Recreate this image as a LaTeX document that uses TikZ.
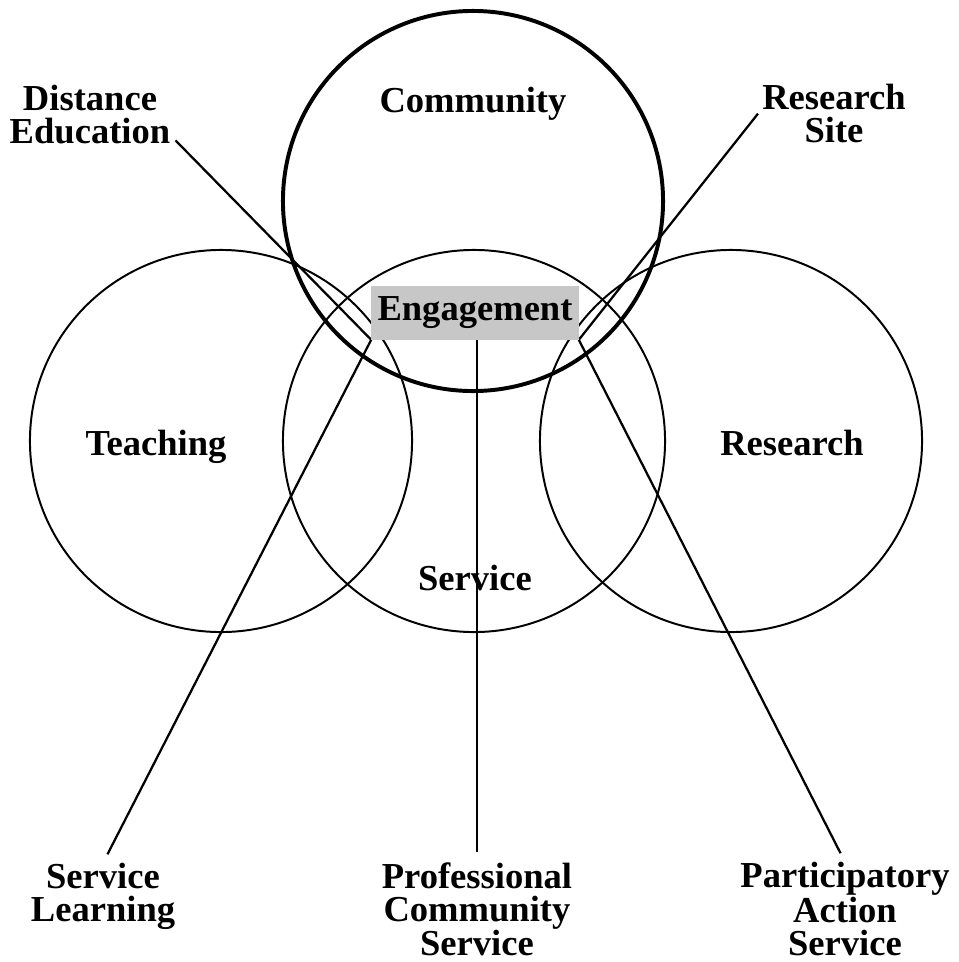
\documentclass[tikz,border=0pt]{standalone}
\usepackage{fontspec}
\setmainfont{Liberation Serif}
\usetikzlibrary{calc}
\tikzset{
	ring/.style={draw, circle, line width=1.4pt, minimum size=9.55cm, inner sep=0pt},
	bigring/.style={ring, line width=2.8pt, minimum size=9.5cm},
	lbl/.style={font=\fontsize{26}{23.5}\selectfont\bfseries, align=center, inner sep=0pt},
	shade/.style={lbl, fill=black!22, minimum height=1.325cm, inner xsep=4.3pt},
	link/.style={line width=1.6pt}
}

\begin{document}
\begin{tikzpicture}[x=0.025cm, y=-0.025cm]
			%%%%% START %%%%%
			\useasboundingbox (0, 0) rectangle (959, 962);
			
			\node[ring] (teaching) at (221, 441) {};
			\node[ring] (service) at (474, 441) {};
			\node[ring] (research) at (731, 441) {};
			\node[bigring] (community) at (473, 201) {};
			
			\node[lbl, anchor=base] (communitytext) at (473, 112) {Community};
			\node[lbl, anchor=base] (teachingtext) at (156, 455) {Teaching};
			\node[lbl, anchor=base] (servicetext) at (475, 590) {Service};
			\node[lbl, anchor=base] (researchtext) at (792, 455) {Research};
			
			\node[lbl, anchor=north] (distance) at (90, 85) {Distance\\Education};
			\node[lbl, anchor=north] (site) at (834, 84) {Research\\Site};
			\node[lbl, anchor=north] (learning) at (103, 863) {Service\\Learning};
			\node[lbl, anchor=north] (professional) at (477, 862) {Professional\\Community\\Service};
			\node[lbl, anchor=north] (participatory) at (845, 862) {Participatory\\Action\\Service};
			
			\node[shade] (engagement) at (475, 313) {\phantom{Engagement}};
			
			\draw[link] ($(distance.south east)+(5, -4)$) -- (engagement.south west);
			\draw[link] ($(site.west)+(-4, 0)$) -- (engagement.south east);
			\draw[link, shorten >=7pt] (engagement.south west) -- (learning.north);
			\draw[link, shorten >=7pt] (engagement.south east) -- (participatory.north);
			\draw[link, shorten >=7pt] (professional.north |- engagement.south) -- (professional.north);
			
			\node[shade] (engagementtext) at (engagement) {Engagement};
			%%%%% END %%%%%
\end{tikzpicture}
\end{document}
